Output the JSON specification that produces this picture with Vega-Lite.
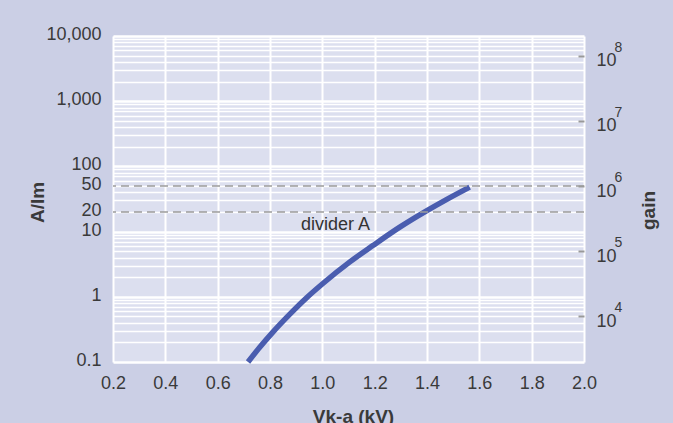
{
  "$schema": "https://vega.github.io/schema/vega-lite/v6.json",
  "width": 471,
  "height": 326,
  "autosize": {"type": "none"},
  "padding": {"left": 113, "top": 36, "right": 89, "bottom": 61},
  "background": "#CBCFE5",
  "config": {
    "view": {"fill": "#DCDFEF", "stroke": null},
    "font": "Liberation Sans",
    "axis": {"labelFont": "Liberation Sans", "titleFont": "Liberation Sans", "labelColor": "#3a3a3a", "titleColor": "#3a3a3a"}
  },
  "datasets": {
    "curve": [
      {"V": 0.716, "A": 0.1},
      {"V": 0.76, "A": 0.167},
      {"V": 0.811, "A": 0.288},
      {"V": 0.875, "A": 0.538},
      {"V": 0.939, "A": 0.96},
      {"V": 1.002, "A": 1.6},
      {"V": 1.104, "A": 3.4},
      {"V": 1.193, "A": 6.1},
      {"V": 1.296, "A": 11.7},
      {"V": 1.398, "A": 20.8},
      {"V": 1.474, "A": 31.0},
      {"V": 1.563, "A": 48.2}
    ],
    "dividers": [{"V": 1.0, "A": 20}, {"V": 1.0, "A": 50}],
    "labels": [{"V": 1.05, "A": 12.7, "text": "divider A"}],
    "gainTicks": [{"gain": 1000000}]
  },
  "layer": [
    {
      "layer": [
        {
          "data": {"name": "curve"},
          "mark": {"type": "line", "color": "#4A5DAF", "strokeWidth": 5.5, "interpolate": "monotone", "strokeCap": "butt"},
          "encoding": {
            "x": {
              "field": "V", "type": "quantitative",
              "scale": {"domain": [0.2, 2.0], "nice": false, "zero": false},
              "axis": {
                "values": [0.2, 0.3, 0.4, 0.5, 0.6, 0.7, 0.8, 0.9, 1.0, 1.1, 1.2, 1.3, 1.4, 1.5, 1.6, 1.7, 1.8, 1.9, 2.0],
                "labelExpr": "round(datum.value * 10) % 2 == 0 ? format(datum.value, '.1f') : ''",
                "grid": true, "gridColor": "white", "gridWidth": 2,
                "ticks": false, "domain": false,
                "labelFontSize": 18, "labelPadding": 12, "labelFlush": false, "labelOverlap": false,
                "title": "Vk-a (kV)", "titleFontSize": 19, "titleFontWeight": "bold",
                "titleX": 240, "titleY": 54, "titleBaseline": "middle", "titleAlign": "center"
              }
            },
            "y": {
              "field": "A", "type": "quantitative",
              "scale": {"type": "log", "domain": [0.1, 10000], "nice": false},
              "axis": {
                "values": [0.1, 0.2, 0.3, 0.4, 0.5, 0.6, 0.7, 0.8, 0.9, 1, 2, 3, 4, 5, 6, 7, 8, 9, 10, 20, 30, 40, 50, 60, 70, 80, 90, 100, 200, 300, 400, 500, 600, 700, 800, 900, 1000, 2000, 3000, 4000, 5000, 6000, 7000, 8000, 9000, 10000],
                "labelExpr": "indexof([0.1, 1, 10, 20, 50, 100, 1000, 10000], datum.value) >= 0 ? format(datum.value, ',') : ''",
                "grid": true, "gridColor": "white",
                "gridWidth": {"condition": {"test": "indexof([0.1, 1, 10, 100, 1000, 10000], datum.value) >= 0", "value": 2.7}, "value": 1.3},
                "ticks": false, "domain": false,
                "labelPadding": 12, "labelFontSize": 18, "labelOffset": -1.5, "labelOverlap": false, "labelFlush": false,
                "title": "A/lm", "titleFontSize": 19, "titleFontWeight": "bold",
                "titleAngle": 270, "titleX": -76, "titleY": 166, "titleBaseline": "middle", "titleAlign": "center"
              }
            }
          }
        },
        {
          "data": {"name": "dividers"},
          "mark": {"type": "rule", "color": "#9a9a9a", "strokeWidth": 1.5, "strokeDash": [8, 5]},
          "encoding": {
            "y": {"field": "A", "type": "quantitative", "scale": {"type": "log", "domain": [0.1, 10000], "nice": false}}
          }
        },
        {
          "data": {"name": "labels"},
          "mark": {"type": "text", "fontSize": 18, "color": "#333333", "align": "center", "baseline": "middle", "font": "Liberation Sans"},
          "encoding": {
            "x": {"field": "V", "type": "quantitative", "scale": {"domain": [0.2, 2.0], "nice": false, "zero": false}},
            "y": {"field": "A", "type": "quantitative", "scale": {"type": "log", "domain": [0.1, 10000], "nice": false}},
            "text": {"field": "text"}
          }
        }
      ]
    },
    {
      "data": {"name": "gainTicks"},
      "mark": {"type": "rule", "opacity": 0},
      "encoding": {
        "y": {
          "field": "gain", "type": "quantitative",
          "scale": {"type": "log", "domain": [2000, 200000000], "nice": false},
          "axis": {
            "orient": "right",
            "values": [10000, 100000, 1000000, 10000000, 100000000],
            "labelExpr": "'10'",
            "grid": false, "domain": false,
            "ticks": true, "tickSize": -6, "tickColor": "#999999", "tickWidth": 2,
            "labelPadding": 18, "labelFontSize": 18, "labelOffset": 5, "labelAlign": "left", "labelBaseline": "middle",
            "labelOverlap": false, "labelFlush": false,
            "title": "gain", "titleFontSize": 19, "titleFontWeight": "bold",
            "titleAngle": 270, "titleX": 64, "titleY": 174, "titleBaseline": "middle", "titleAlign": "center"
          }
        }
      }
    },
    {
      "data": {"name": "gainTicks"},
      "mark": {"type": "rule", "opacity": 0},
      "encoding": {
        "y": {
          "field": "gain", "type": "quantitative",
          "scale": {"type": "log", "domain": [2000, 200000000], "nice": false},
          "axis": {
            "orient": "right",
            "values": [10000, 100000, 1000000, 10000000, 100000000],
            "labelExpr": "'' + round(log(datum.value) / LN10)",
            "grid": false, "domain": false, "ticks": false,
            "labelPadding": 30, "labelFontSize": 14, "labelOffset": -8.5, "labelAlign": "left", "labelBaseline": "middle",
            "labelOverlap": false, "labelFlush": false,
            "title": null
          }
        }
      }
    }
  ],
  "resolve": {"scale": {"y": "independent"}, "axis": {"y": "independent"}}
}
